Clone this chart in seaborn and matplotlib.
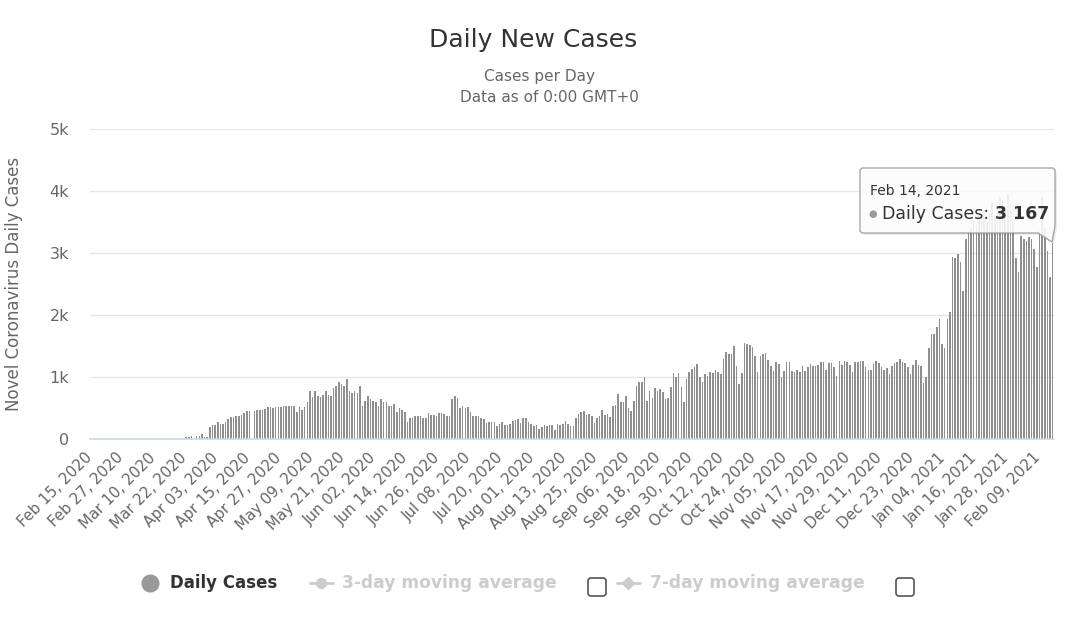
import numpy as np
import pandas as pd
import matplotlib
matplotlib.use("Agg")
import matplotlib.pyplot as plt
import seaborn as sns
from matplotlib.lines import Line2D
from matplotlib.patches import FancyBboxPatch, Polygon
from matplotlib.transforms import IdentityTransform, ScaledTranslation

# Daily new cases, Feb 15 2020 -> Feb 14 2021
feb_2020 = [0, 0, 0, 0, 0, 0, 0, 0, 0, 0, 0, 0, 0, 0, 0]
mar_2020 = [0, 0, 0, 0, 0, 0, 0, 0, 0, 0, 0, 0, 0, 0, 0, 0, 0, 0, 0, 0, 0,
            25, 25, 55, 0, 55, 55, 80, 25, 25, 200]
apr_2020 = [230, 225, 270, 240, 240, 280, 330, 350, 350, 365, 370, 390, 420, 445, 445,
            0, 445, 470, 470, 470, 485, 510, 510, 495, 510, 510, 510, 540, 540, 540]
may_2020 = [540, 540, 440, 510, 475, 510, 590, 770, 670, 770, 690, 670, 710, 770, 715, 690,
            820, 860, 915, 890, 860, 970, 780, 750, 780, 750, 860, 540, 620, 690, 645]
jun_2020 = [620, 590, 540, 645, 600, 600, 540, 540, 565, 440, 495, 475, 430, 270, 335,
            335, 365, 365, 365, 335, 335, 420, 390, 390, 365, 420, 420, 400, 375, 375]
jul_2020 = [645, 690, 660, 495, 540, 495, 510, 440, 375, 365, 365, 335, 320, 260, 270, 280,
            280, 205, 240, 270, 225, 225, 240, 295, 310, 320, 260, 335, 335, 270, 240]
aug_2020 = [215, 225, 160, 190, 225, 205, 225, 225, 150, 240, 225, 240, 295, 240, 205, 205,
            335, 400, 430, 455, 390, 400, 375, 260, 335, 375, 475, 390, 400, 350, 525]
sep_2020 = [555, 725, 600, 600, 700, 495, 455, 620, 860, 915, 915, 995, 620, 770, 655,
            820, 770, 805, 765, 645, 660, 835, 1065, 995, 1065, 835, 590, 970, 1075, 1130]
oct_2020 = [1155, 1210, 995, 915, 1050, 1020, 1075, 1065, 1120, 1075, 1050, 1290, 1410, 1370,
            1370, 1505, 1185, 885, 1065, 1550, 1530, 1515, 1480, 1335, 1075, 1345, 1370,
            1385, 1280, 1170, 1100]
nov_2020 = [1245, 1210, 995, 1100, 1245, 1245, 1100, 1075, 1120, 1075, 1185, 1100, 1155, 1210,
            1185, 1170, 1195, 1235, 1235, 1115, 1220, 1220, 1165, 1020, 1265, 1200, 1265,
            1235, 1200, 1075]
dec_2020 = [1235, 1235, 1265, 1265, 1155, 1115, 1115, 1210, 1265, 1220, 1155, 1115, 1145, 1050,
            1180, 1220, 1250, 1290, 1235, 1220, 1155, 1050, 1200, 1275, 1200, 1185, 900, 1000,
            1470, 1695, 1695]
jan_2021 = [1810, 1935, 1530, 1470, 1935, 2045, 2940, 2920, 2985, 2850, 2380, 3225, 3350, 3400,
            3500, 3450, 3600, 3550, 3700, 3500, 3650, 3800, 3600, 3750, 3900, 3850, 3700, 3950,
            3800, 3500, 2920]
feb_2021 = [2690, 3280, 3225, 3200, 3250, 3225, 3065, 2770, 3350, 3900, 3400, 3040, 2610, 3167]

daily_cases = (feb_2020 + mar_2020 + apr_2020 + may_2020 + jun_2020 + jul_2020 + aug_2020
               + sep_2020 + oct_2020 + nov_2020 + dec_2020 + jan_2021 + feb_2021)
dates = pd.date_range("2020-02-15", periods=len(daily_cases), freq="D")
df = pd.DataFrame({"day": np.arange(len(dates)), "cases": daily_cases})

y_ticks = [0, 1000, 2000, 3000, 4000, 5000]
y_tick_labels = ["0", "1k", "2k", "3k", "4k", "5k"]
label_step = 12

W, H = 1080, 644
sns.set_style("white")
plt.rcParams["font.family"] = ["DejaVu Sans"]

fig = plt.figure(figsize=(W / 100, H / 100), dpi=100)
ax = fig.add_axes([90 / W, 1 - 439 / H, 964 / W, 310 / H])

sns.barplot(data=df, x="day", y="cases", color="#8f8f8f", saturation=1,
            width=0.6, errorbar=None, ax=ax, zorder=3,
            linewidth=0, edgecolor="none")

ax.set_xlim(-0.5, len(dates) - 0.5)
ax.set_ylim(0, 5000)
ax.set_yticks(y_ticks)
ax.set_yticklabels(y_tick_labels)
ticks = df["day"].values[::label_step]
ax.set_xticks(ticks)
ax.set_xticklabels([d.strftime("%b %d, %Y") for d in dates[::label_step]],
                   rotation=45, ha="right", rotation_mode="anchor")
ax.tick_params(axis="x", length=0, pad=8, labelsize=10.8, labelcolor="#666666")
ax.tick_params(axis="y", length=0, pad=15, labelsize=11.5, labelcolor="#666666")
# nudge rotated date labels so their ends sit on the tick, like the original
shift = ScaledTranslation(-7 / 100, 0, fig.dpi_scale_trans)
for lbl in ax.get_xticklabels():
    lbl.set_transform(lbl.get_transform() + shift)
ax.set_xlabel("")
ax.set_ylabel("Novel Coronavirus Daily Cases", fontsize=12, color="#666666")
ax.yaxis.set_label_coords(-0.07, 0.5)

ax.yaxis.grid(True, color="#e6e6e6", lw=1, zorder=0)
ax.set_axisbelow(True)
for side in ["left", "right", "top"]:
    ax.spines[side].set_visible(False)
ax.spines["bottom"].set_color("#ccd6eb")
ax.spines["bottom"].set_linewidth(1.2)
ax.spines["bottom"].set_zorder(4)


def fx(x):
    return x / W


def fy(y):
    return 1 - y / H


# titles
fig.text(fx(533), fy(40), "Daily New Cases", ha="center", va="center", fontsize=18, color="#333333")
fig.text(fx(540), fy(76), "Cases per Day", ha="center", va="center", fontsize=11, color="#666666")
fig.text(fx(549), fy(97), "Data as of 0:00 GMT+0", ha="center", va="center", fontsize=11, color="#666666")

# legend
pix = IdentityTransform()
fig.add_artist(Line2D([fx(150)], [fy(583)], marker="o", markersize=12, color="#999999",
                      transform=fig.transFigure))
fig.text(fx(170), fy(583), "Daily Cases", ha="left", va="center", fontsize=12,
         fontweight="bold", color="#333333")
fig.add_artist(Line2D([fx(310), fx(333)], [fy(583), fy(583)], lw=2, color="#cccccc",
                      transform=fig.transFigure))
fig.add_artist(Line2D([fx(321)], [fy(583)], marker="o", markersize=7, color="#cccccc",
                      transform=fig.transFigure))
fig.text(fx(342), fy(583), "3-day moving average", ha="left", va="center", fontsize=12.3,
         fontweight="bold", color="#cccccc")
fig.add_artist(Line2D([fx(617), fx(640)], [fy(583), fy(583)], lw=2, color="#cccccc",
                      transform=fig.transFigure))
fig.add_artist(Line2D([fx(628)], [fy(583)], marker="D", markersize=6, color="#cccccc",
                      transform=fig.transFigure))
fig.text(fx(650), fy(583), "7-day moving average", ha="left", va="center", fontsize=12.3,
         fontweight="bold", color="#cccccc")
for bx in [588, 896]:
    fig.add_artist(FancyBboxPatch((bx, H - 596), 18, 18,
                                  boxstyle="round,pad=0,rounding_size=3",
                                  facecolor="white", edgecolor="#555555", lw=1.2,
                                  transform=pix))

# tooltip on the last point
tip = [(862, 168), (1053, 168), (1055, 170), (1055, 226), (1052, 242), (1038, 233),
       (862, 233), (860, 231), (860, 170)]
shadow = [(x + 2, H - (y + 2)) for x, y in tip]
fig.add_artist(Polygon(shadow, closed=True, facecolor="#000000", alpha=0.08,
                       edgecolor="none", transform=pix, zorder=5))
fig.add_artist(Polygon([(x, H - y) for x, y in tip], closed=True, facecolor="white",
                       alpha=0.86, edgecolor="#9a9a9a", lw=1, transform=pix, zorder=6))
last_value = daily_cases[-1]
fig.text(fx(870), fy(191), dates[-1].strftime("%b %d, %Y"), ha="left", va="center",
         fontsize=10, color="#333333", zorder=7)
fig.text(fx(873), fy(214), "\u25cf", ha="center", va="center", fontsize=7,
         color="#999999", zorder=7)
lab = fig.text(fx(882), fy(214), "Daily Cases: ", ha="left", va="center", fontsize=12.5,
               color="#333333", zorder=7)
fig.canvas.draw()
bb = lab.get_window_extent()
fig.text(bb.x1 / W, fy(214), f"{last_value:,}".replace(",", " "), ha="left", va="center",
         fontsize=12.5, fontweight="bold", color="#333333", zorder=7)

fig.savefig("out.png", dpi=100)
